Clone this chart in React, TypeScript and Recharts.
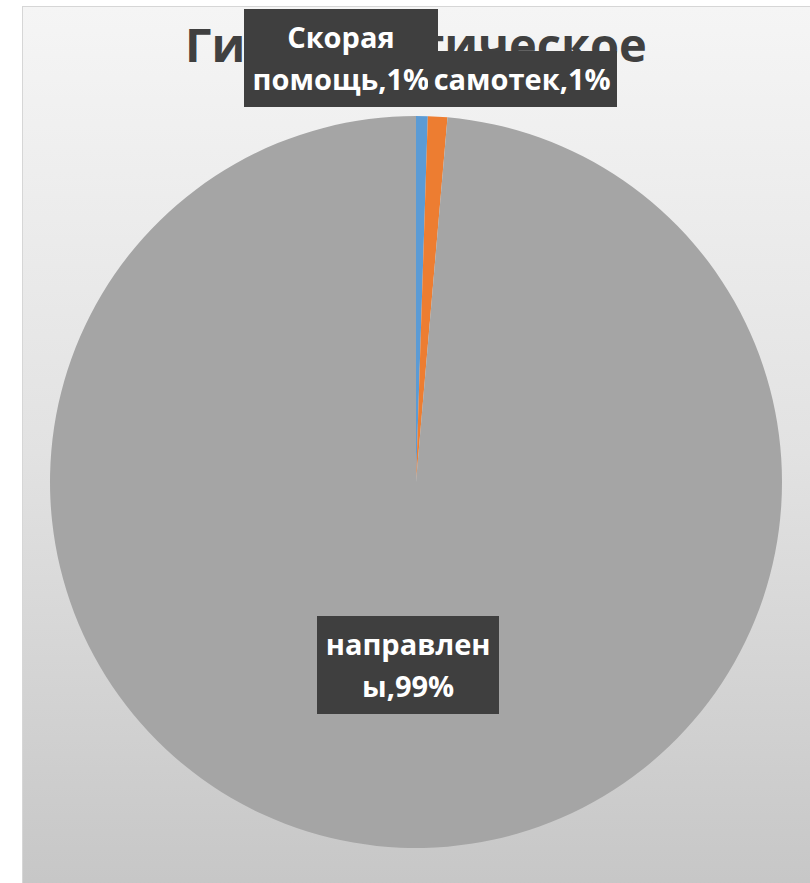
import { PieChart, Pie, Cell } from "recharts";

const categories = ["Скорая помощь", "самотек", "направлены"];
const counts = [3, 5, 575];
const colors = ["#5b9bd5", "#ed7d31", "#a5a5a5"];
const title = "Гинекологическое";

const data = categories.map((name, i) => ({ name, value: counts[i] }));

const RADIAN = Math.PI / 180;
const FONT = "'Open Sans', 'Noto Sans', sans-serif";

type LabelProps = {
  cx: number;
  cy: number;
  midAngle: number;
  outerRadius: number;
  percent: number;
  index: number;
  name: string;
};

const boxStyle = {
  background: "#3f3f3f",
  color: "#ffffff",
  fontFamily: FONT,
  fontWeight: 700,
  fontSize: 29,
  lineHeight: "42px",
  padding: "7px 6px",
  textAlign: "center" as const,
  boxSizing: "border-box" as const,
  overflowWrap: "anywhere" as const,
};

function LabelBox({ text, maxWidth, justify }: { text: string; maxWidth: number; justify: string }) {
  return (
    <div style={{ display: "flex", width: "100%", height: "100%", justifyContent: justify, alignItems: "flex-end" }}>
      <div style={{ ...boxStyle, maxWidth, width: "fit-content" }}>{text}</div>
    </div>
  );
}

function renderLabel(props: LabelProps) {
  const { cx, cy, midAngle, outerRadius, percent, index, name } = props;
  const text = `${name},${Math.round(percent * 100)}%`;
  const cos = Math.cos(-midAngle * RADIAN);
  const sin = Math.sin(-midAngle * RADIAN);

  if (percent > 0.5) {
    const r = outerRadius * 0.5;
    const x = cx + r * cos;
    const y = cy + r * sin;
    return (
      <foreignObject key={`lbl-${index}`} x={x - 150} y={y - 100} width={300} height={200}>
        <div style={{ display: "flex", width: "100%", height: "100%", justifyContent: "center", alignItems: "center" }}>
          <div style={{ ...boxStyle, width: 182 }}>{text}</div>
        </div>
      </foreignObject>
    );
  }

  // small slices: boxes sit above the pie, first one to the left, others to the right
  const x = cx + outerRadius * cos;
  const bottom = cy - outerRadius - 9;
  if (index === 0) {
    return (
      <foreignObject key={`lbl-${index}`} x={x + 16 - 400} y={bottom - 200} width={400} height={200}>
        <LabelBox text={text} maxWidth={194} justify="flex-end" />
      </foreignObject>
    );
  }
  return (
    <foreignObject key={`lbl-${index}`} x={x - 10} y={bottom - 200} width={400} height={200}>
      <LabelBox text={text} maxWidth={194} justify="flex-start" />
    </foreignObject>
  );
}

export default function App() {
  return (
    <div style={{ position: "absolute", left: 0, top: 0, width: 810, height: 883, overflow: "hidden" }}>
      <div
        style={{
          position: "absolute",
          left: 22,
          top: 6,
          width: 800,
          height: 890,
          border: "1px solid #d6d6d6",
          background: "linear-gradient(#f5f5f5, #e2e2e2 50%, #c6c6c6)",
        }}
      />
      <div
        style={{
          position: "absolute",
          left: 416,
          top: 19,
          transform: "translateX(-50%)",
          fontFamily: FONT,
          fontWeight: 700,
          fontSize: 47,
          lineHeight: "50px",
          color: "#404040",
          whiteSpace: "nowrap",
        }}
      >
        {title}
      </div>
      <div style={{ position: "absolute", left: 0, top: 0 }}>
        <PieChart width={810} height={883} margin={{ top: 0, right: 0, bottom: 0, left: 0 }}>
          <Pie
            data={data}
            dataKey="value"
            nameKey="name"
            cx={416}
            cy={482}
            outerRadius={366}
            startAngle={90}
            endAngle={-270}
            stroke="none"
            label={renderLabel}
            labelLine={false}
            isAnimationActive={false}
          >
            {data.map((d, i) => (
              <Cell key={d.name} fill={colors[i]} />
            ))}
          </Pie>
        </PieChart>
      </div>
    </div>
  );
}
